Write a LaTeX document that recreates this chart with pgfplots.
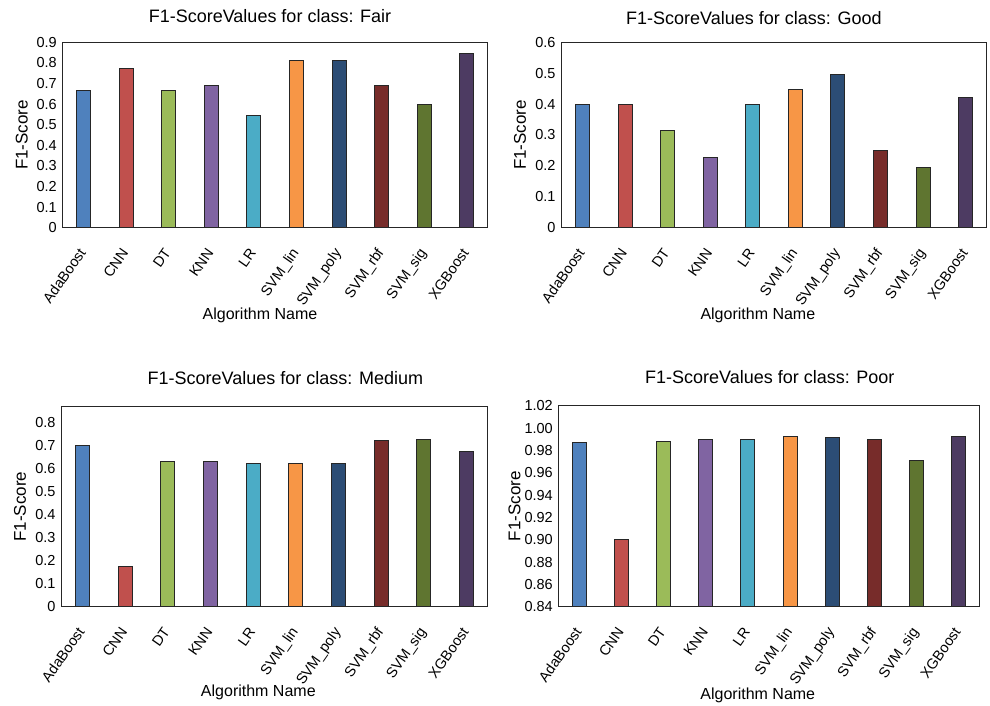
\documentclass[border=0pt]{standalone}
\usepackage{fontspec}
\setmainfont{Liberation Sans}
\usepackage{pgfplots}
\pgfplotsset{compat=1.18}
\definecolor{cA}{HTML}{4F81BD}
\definecolor{cB}{HTML}{C0504D}
\definecolor{cC}{HTML}{9BBB59}
\definecolor{cD}{HTML}{8064A2}
\definecolor{cE}{HTML}{4BACC6}
\definecolor{cF}{HTML}{F79646}
\definecolor{cG}{HTML}{2C4D75}
\definecolor{cH}{HTML}{772C2A}
\definecolor{cI}{HTML}{5F7530}
\definecolor{cJ}{HTML}{4D3B62}
\pgfplotsset{
  b/.style={fill=#1, draw=black!85, line width=0.6pt, bar shift=0pt},
  panel/.style={
    scale only axis, anchor=south west,
    ybar, bar width=14pt,
    xmin=-0.5, xmax=9.5, xtick={0,1,2,3,4,5,6,7,8,9},
    xticklabels={AdaBoost,CNN,DT,KNN,LR,SVM\_lin,SVM\_poly,SVM\_rbf,SVM\_sig,XGBoost},
    xticklabel style={xshift=3pt, rotate=55, anchor=base east, inner sep=0pt, font=\fontsize{14.5}{16}\selectfont},
    xticklabel shift=25pt,
    yticklabel style={font=\fontsize{14.5}{16}\selectfont},
    yticklabel shift=2pt,
    major tick length=0pt,
    /pgf/number format/assume math mode=true,
    axis line style={line width=0.9pt, black!85},
    title style={font=\fontsize{18}{21}\selectfont, anchor=center},
    xlabel style={font=\fontsize{16}{19}\selectfont, anchor=center},
    ylabel style={font=\fontsize{17}{20}\selectfont, anchor=center, rotate=0},
    xlabel={Algorithm Name},
    ylabel={F1-Score},
  }
}
\begin{document}
\begin{tikzpicture}
\useasboundingbox (0,0) rectangle (990pt,706pt);
% Fair
\begin{axis}[panel, at={(62.3pt,478.3pt)}, width=425.4pt, height=185.4pt,
  ymin=0, ymax=0.9, ytick={0,0.1,0.2,0.3,0.4,0.5,0.6,0.7,0.8,0.9},
  title={F1-ScoreValues for class: Fair},
  title style={at={(axis description cs:0.5,1)}, xshift=-5pt, yshift=20pt},
  xlabel style={at={(axis description cs:0.5,0)}, xshift=-15pt, yshift=-88pt},
  ylabel style={at={(axis description cs:-0.095,0.5)}}]
\addplot[b=cA] coordinates {(0,0.665)};
\addplot[b=cB] coordinates {(1,0.772)};
\addplot[b=cC] coordinates {(2,0.665)};
\addplot[b=cD] coordinates {(3,0.691)};
\addplot[b=cE] coordinates {(4,0.547)};
\addplot[b=cF] coordinates {(5,0.813)};
\addplot[b=cG] coordinates {(6,0.813)};
\addplot[b=cH] coordinates {(7,0.691)};
\addplot[b=cI] coordinates {(8,0.597)};
\addplot[b=cJ] coordinates {(9,0.847)};
\end{axis}
% Good
\begin{axis}[panel, at={(561pt,478.3pt)}, width=425.7pt, height=185.4pt,
  ymin=0, ymax=0.6, ytick={0,0.1,0.2,0.3,0.4,0.5,0.6},
  title={F1-ScoreValues for class: Good},
  title style={at={(axis description cs:0.5,1)}, xshift=-20pt, yshift=18pt},
  xlabel style={at={(axis description cs:0.5,0)}, xshift=-16pt, yshift=-88pt},
  ylabel style={at={(axis description cs:-0.096,0.5)}}]
\addplot[b=cA] coordinates {(0,0.398)};
\addplot[b=cB] coordinates {(1,0.398)};
\addplot[b=cC] coordinates {(2,0.316)};
\addplot[b=cD] coordinates {(3,0.228)};
\addplot[b=cE] coordinates {(4,0.398)};
\addplot[b=cF] coordinates {(5,0.448)};
\addplot[b=cG] coordinates {(6,0.497)};
\addplot[b=cH] coordinates {(7,0.249)};
\addplot[b=cI] coordinates {(8,0.197)};
\addplot[b=cJ] coordinates {(9,0.422)};
\end{axis}
% Medium
\begin{axis}[panel, at={(61pt,99.3pt)}, width=426.7pt, height=200pt,
  ymin=0, ymax=0.87, ytick={0,0.1,0.2,0.3,0.4,0.5,0.6,0.7,0.8},
  title={F1-ScoreValues for class: Medium},
  title style={at={(axis description cs:0.5,1)}, xshift=11pt, yshift=23pt},
  xlabel style={at={(axis description cs:0.5,0)}, xshift=-16pt, yshift=-86pt},
  ylabel style={at={(axis description cs:-0.096,0.5)}}]
\addplot[b=cA] coordinates {(0,0.702)};
\addplot[b=cB] coordinates {(1,0.177)};
\addplot[b=cC] coordinates {(2,0.631)};
\addplot[b=cD] coordinates {(3,0.631)};
\addplot[b=cE] coordinates {(4,0.622)};
\addplot[b=cF] coordinates {(5,0.622)};
\addplot[b=cG] coordinates {(6,0.622)};
\addplot[b=cH] coordinates {(7,0.723)};
\addplot[b=cI] coordinates {(8,0.728)};
\addplot[b=cJ] coordinates {(9,0.677)};
\end{axis}
% Poor
\begin{axis}[panel, at={(558.3pt,99.3pt)}, width=421pt, height=201pt,
  ymin=0.84, ymax=1.02, ytick={0.84,0.86,0.88,0.90,0.92,0.94,0.96,0.98,1.00,1.02},
  yticklabel style={/pgf/number format/.cd, fixed, fixed zerofill, precision=2},
  title={F1-ScoreValues for class: Poor},
  title style={at={(axis description cs:0.5,1)}, xshift=1pt, yshift=23pt},
  xlabel style={at={(axis description cs:0.5,0)}, xshift=-11pt, yshift=-89pt},
  ylabel style={at={(axis description cs:-0.104,0.5)}}]
\addplot[b=cA] coordinates {(0,0.987)};
\addplot[b=cB] coordinates {(1,0.900)};
\addplot[b=cC] coordinates {(2,0.988)};
\addplot[b=cD] coordinates {(3,0.990)};
\addplot[b=cE] coordinates {(4,0.990)};
\addplot[b=cF] coordinates {(5,0.993)};
\addplot[b=cG] coordinates {(6,0.992)};
\addplot[b=cH] coordinates {(7,0.990)};
\addplot[b=cI] coordinates {(8,0.971)};
\addplot[b=cJ] coordinates {(9,0.993)};
\end{axis}
\end{tikzpicture}
\end{document}
